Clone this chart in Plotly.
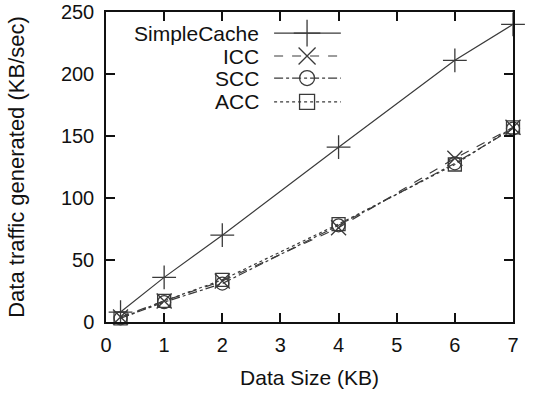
import plotly.graph_objects as go

data_size = [0.25, 1, 2, 4, 6, 7]
simple_cache = [8, 36, 70, 141, 211, 240]
icc = [4, 17, 33, 76, 132, 157]
scc = [3, 16, 31, 78, 128, 156]
acc = [3, 17, 34, 79, 127, 157]

series = [
    ("SimpleCache", simple_cache, "solid", "cross-thin", 17),
    ("ICC", icc, "dash", "x-thin", 15),
    ("SCC", scc, "dashdot", "circle-open", 13),
    ("ACC", acc, "dot", "square-open", 13),
]

color = "#3a3a3a"
txt = "#111"
fam = "Liberation Sans"
fig = go.Figure()
for name, ys, dash, sym, sz in series:
    fig.add_trace(go.Scatter(
        x=data_size, y=ys, mode="lines+markers", name=name,
        line=dict(color=color, width=1.2, dash=dash),
        marker=dict(symbol=sym, size=sz, color=color, line=dict(color=color, width=1.3)),
        cliponaxis=False, showlegend=False))

# manual legend (text on the left, sample on the right), gnuplot style
leg_y = [0.932, 0.858, 0.787, 0.710]
for (name, ys, dash, sym, sz), yy in zip(series, leg_y):
    fig.add_trace(go.Scatter(
        x=[0.413, 0.577], y=[yy, yy], xaxis="x2", yaxis="y2", mode="lines",
        line=dict(color=color, width=1.2, dash=dash), showlegend=False, hoverinfo="skip"))
    fig.add_trace(go.Scatter(
        x=[0.494], y=[yy], xaxis="x2", yaxis="y2", mode="markers",
        marker=dict(symbol=sym, size=sz + 2, color=color, line=dict(color=color, width=1.3)),
        showlegend=False, hoverinfo="skip"))
    fig.add_annotation(x=0.381, y=yy, xref="x2", yref="y2", text=name, showarrow=False,
                       xanchor="right", yanchor="middle",
                       font=dict(family=fam, size=21, color=txt))

axis_common = dict(showline=True, linecolor=txt, linewidth=1.5, mirror="allticks",
                   ticks="inside", ticklen=9, tickwidth=1.5, tickcolor=txt,
                   showgrid=False, zeroline=False, automargin=False,
                   tickfont=dict(family=fam, size=20, color=txt))

fig.update_layout(
    width=545, height=393,
    margin=dict(l=106, r=32, t=12, b=71),
    paper_bgcolor="white", plot_bgcolor="white",
    xaxis=dict(range=[0, 7], dtick=1, tick0=0, ticklabelstandoff=4,
               title=dict(text="Data Size (KB)", standoff=16,
                          font=dict(family=fam, size=21, color=txt)),
               **axis_common),
    yaxis=dict(range=[0, 250], dtick=50, tick0=0, ticklabelstandoff=6,
               ticklabeloverflow="allow",
               title=dict(text="Data traffic generated (KB/sec)", standoff=30,
                          font=dict(family=fam, size=22, color=txt)),
               **axis_common),
    xaxis2=dict(range=[0, 1], overlaying="x", visible=False, domain=[0, 1]),
    yaxis2=dict(range=[0, 1], overlaying="y", visible=False, domain=[0, 1]),
)

fig.write_html("out.html", config={"displayModeBar": False},
               post_script="document.body.style.margin='0';")
